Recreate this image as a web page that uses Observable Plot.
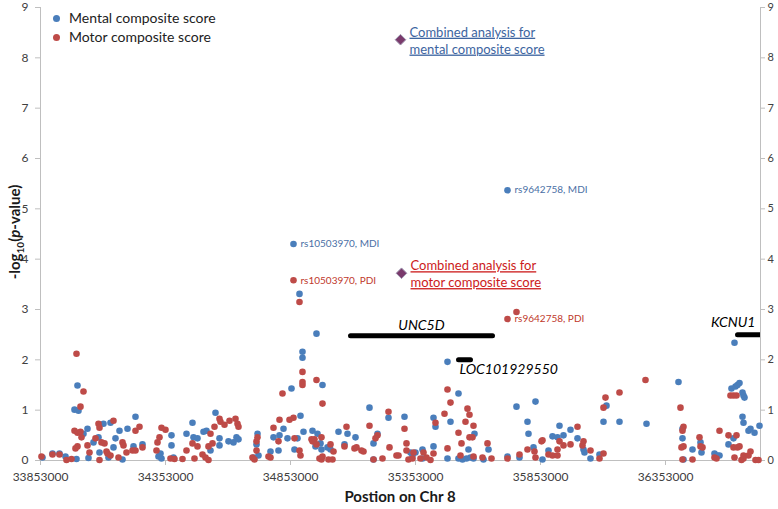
<!DOCTYPE html>
<html><head><meta charset="utf-8">
<script src="https://cdn.jsdelivr.net/npm/d3@7"></script>
<script src="https://cdn.jsdelivr.net/npm/@observablehq/plot@0.6"></script>
<style>
body{margin:0;background:#fff;font-family:Lato,"Open Sans",sans-serif;}
#wrap{position:relative;width:778px;height:509px;}
#legend{position:absolute;left:53px;top:8px;font-size:14px;color:#222;line-height:19px;}
#legend .sw{display:inline-block;width:7px;height:7px;border-radius:50%;margin-right:9px;vertical-align:1px;}
</style></head><body><div id="wrap"><div id="legend"></div></div>
<script>
// ---- data ----
const xDomain = [33853000, 36733000];
const xTicks = [33853000, 34353000, 34853000, 35353000, 35853000, 36353000];
const yTicks = [0, 1, 2, 3, 4, 5, 6, 7, 8, 9];
const seriesNames = ["Mental composite score", "Motor composite score"];
const seriesColors = ["#4a7ebb", "#be4b48"];

const mentalPos = [33861,33901,33929,33953,34001,33989,34005,33997,34025,34041,34045,34065,34085,34089,34105,34133,34145,34153,34125,34169,34181,34201,34225,34233,34261,34325,34333,34337,34377,34377,34385,34437,34461,34465,34481,34505,34517,34533,34553,34569,34569,34605,34625,34637,34645,34705,34717,34721,34725,
34773,34785,34805,34809,34825,34841,34857,34865,34889,34901,34901,34893,34905,34869,34881,34941,34961,34973,34953,34957,34981,34977,35001,35013,35045,35069,35081,35113,35169,35185,35185,35201,35245,35309,35333,35341,35353,35381,35425,35433,35425,35381,
35481,35525,35493,35481,35525,35541,35557,35573,35585,35565,35589,35625,35645,35721,35721,35757,35769,35801,35805,35833,35825,35861,35885,35901,35921,35929,35945,35973,36001,36025,36029,36053,36089,36105,36117,36169,36277,
36405,36421,36421,36425,36461,36493,36497,36549,36561,36569,36605,36625,36629,36617,36633,36641,36649,36661,36665,36669,36661,36665,36685,36693,36709,36729].map(d => d * 1000);
const mentalVal = [0.06,0.14,0.14,0.08,1.49,1.01,0.99,0.03,0.53,0.63,0.05,0.36,0.46,0.16,0.73,0.75,0.26,0.44,0.06,0.59,0.02,0.63,0.28,0.87,0.32,0.08,0.14,0.04,0.5,0.3,0.06,0.53,0.75,0.46,0.44,0.57,0.59,0.2,0.95,0.3,0.44,0.38,0.36,0.46,0.42,0.06,0.32,0.53,0.1,
0.18,0.46,0.2,0.5,0.63,0.44,1.43,4.3,3.31,2.16,2.04,0.89,0.57,0.22,0.44,0.59,0.53,0.34,0.28,2.52,1.5,0.22,0.26,0.22,0.57,0.32,0.53,0.46,1.05,0.34,0.02,0.53,0.85,0.87,0.16,0.1,0.16,0.22,0.85,0.67,0.28,0.04,
1.96,1.33,0.77,0.04,0.04,0.02,0.04,0.06,0.04,0.22,0.53,0.02,0.22,0.08,5.37,1.07,0.06,0.77,0.53,1.17,0.26,0.02,0.2,0.48,0.46,0.69,0.5,0.61,0.44,0.22,0.16,0.04,0.12,0.77,1.09,0.77,0.73,
1.56,0.63,0.44,0.02,0.22,0.36,0.16,0.14,0.1,0.1,0.32,0.44,2.34,1.43,1.47,1.5,1.54,1.35,1.29,1.25,0.87,0.75,0.59,0.63,0.55,0.69];

const motorPos = [33857,33901,33929,33957,33977,33997,34025,34013,33989,34001,34013,34017,34001,33993,34041,34049,34073,34085,34089,34097,34109,34089,34117,34121,34145,34133,34165,34181,34185,34197,34221,34233,34233,34249,34261,34317,34321,34329,34337,34353,34373,34389,34421,34437,34461,34469,34481,34501,34513,34525,34525,34533,34541,34549,34569,34573,34589,34609,34633,34641,34645,34701,34709,34717,34721,34717,
34765,34773,34785,34805,34809,34821,34849,34865,34865,34889,34901,34901,34901,34957,34981,34869,34889,34893,34937,34941,34949,34957,34969,34977,34981,34977,35005,35021,35013,35025,35077,35069,35109,35117,35137,35145,35169,35185,35201,35193,35221,35245,35249,35277,35285,35309,35317,35317,35325,35341,35345,35373,35397,35413,35433,35385,35425,
35469,35481,35493,35481,35525,35537,35533,35553,35561,35569,35569,35581,35585,35585,35621,35641,35657,35721,35721,35757,35769,35801,35829,35833,35857,35861,35885,35901,35921,35921,35929,35945,35973,36001,36021,36025,36053,36089,36105,36105,36113,36169,36273,
36413,36425,36421,36417,36425,36421,36461,36489,36493,36501,36549,36557,36569,36605,36613,36625,36637,36625,36641,36649,36637,36629,36657,36665,36665,36685,36693,36713,36725].map(d => d * 1000);
const motorVal = [0.08,0.12,0.12,0.01,0.03,2.12,1.37,1.07,0.59,0.55,0.57,0.46,0.28,0.24,0.3,0.16,0.44,0.73,0.65,0.36,0.34,0.01,0.18,0.14,0.79,0.1,0.06,0.36,0.3,0.16,0.2,0.2,0.59,0.67,0.26,0.2,0.36,0.46,0.65,0.61,0.04,0.03,0.03,0.2,0.34,0.04,0.28,0.12,0.06,0.01,0.28,0.53,0.34,0.67,0.83,0.77,0.71,0.79,0.83,0.73,0.67,0.06,0.02,0.38,0.46,0.2,
0.08,0.06,0.65,0.38,0.81,1.33,0.81,0.85,3.58,3.15,1.76,1.56,1.5,1.6,1.13,0.44,0.2,0.1,0.42,0.38,0.42,0.32,0.04,0.02,0.08,0.46,0.02,0.02,0.32,0.18,0.67,0.28,0.24,0.26,0.2,0.18,0.69,0.02,0.5,0.44,0.04,0.97,0.26,0.1,0.1,0.63,0.34,0.2,0.02,0.04,0.16,0.04,0.06,0.01,0.75,0.16,0.14,
0.93,1.41,1.15,0.24,0.55,0.34,0.1,0.77,1.03,0.91,0.46,0.46,0.69,0.08,0.06,0.34,0.04,0.04,2.81,2.95,0.12,0.22,0.18,0.06,0.38,0.4,0.12,0.1,0.22,0.1,0.38,0.3,0.32,0.67,0.3,0.38,0.2,0.04,0.14,1.05,1.25,1.35,1.6,
1.05,0.67,0.59,0.26,0.28,0.02,0.02,0.46,0.28,0.26,0.06,0.04,0.59,0.5,1.29,1.29,1.29,0.26,0.26,0.28,0.5,0.06,0.01,0.04,0.1,0.1,0.18,0.01,0.01];

const snpLabels = ["rs10503970, MDI", "rs10503970, PDI", "rs9642758, MDI", "rs9642758, PDI"];
const snpPos = [34865000, 34865000, 35721000, 35721000];
const snpVal = [4.3, 3.58, 5.37, 2.81];
const snpSeries = [0, 1, 0, 1];

const combinedLabels = ["Combined analysis for\nmental composite score", "Combined analysis for\nmotor composite score"];
const combinedPos = [35293000, 35297000];
const combinedVal = [8.36, 3.72];

const geneNames = ["UNC5D", "LOC101929550", "KCNU1"];
const geneStart = [35093000, 35525000, 36641000];
const geneEnd = [35661000, 35573000, 36733000];
const geneY = [2.48, 2.0, 2.5];

// ---- tables ----
const mental = mentalPos.map((x, i) => ({x, y: mentalVal[i]}));
const motor = motorPos.map((x, i) => ({x, y: motorVal[i]}));
const snps = snpLabels.map((t, i) => ({t, x: snpPos[i], y: snpVal[i], s: snpSeries[i]}));
const combined = combinedLabels.map((t, i) => ({t, x: combinedPos[i], y: combinedVal[i], s: i}));
const genes = geneNames.map((name, i) => ({name, start: geneStart[i], end: geneEnd[i], y: geneY[i]}));
const labelColors = ["#4a6fa5", "#c0392b"];
const combinedColors = ["#3c64a0", "#cc1a1a"];

const chart = Plot.plot({
  width: 778, height: 509,
  marginLeft: 40, marginRight: 18, marginTop: 7, marginBottom: 49,
  style: {fontFamily: "Lato, 'Open Sans', sans-serif", fontSize: "12px", color: "#404040", background: "white", overflow: "visible"},
  x: {domain: xDomain},
  y: {domain: [0, 9]},
  marks: [
    Plot.ruleX([xDomain[0], xDomain[1]], {stroke: "#bfbfbf"}),
    Plot.ruleY([0], {stroke: "#bfbfbf"}),
    Plot.axisX({ticks: xTicks, tickFormat: d3.format("d"), tickSize: 5, tickPadding: 7, stroke: "#bfbfbf", fill: "#404040", label: null, fontSize: 12}),
    Plot.axisY({ticks: yTicks, tickSize: 5, tickPadding: 7, stroke: "#bfbfbf", fill: "#404040", label: null, fontSize: 12}),
    Plot.axisY({anchor: "right", ticks: yTicks, tickSize: 4, tickPadding: 3, stroke: "#bfbfbf", fill: "#404040", label: null, fontSize: 11}),
    Plot.link(genes, {x1: "start", x2: "end", y1: "y", y2: "y", stroke: "black", strokeWidth: 5, strokeLinecap: "round", clip: true}),
    Plot.text(genes.filter(g => g.name === "UNC5D"), {x: d => (d.start + d.end) / 2, y: "y", text: "name", dy: -10, fontSize: 14, fontStyle: "italic", fill: "black"}),
    Plot.text(genes.filter(g => g.name === "LOC101929550"), {x: "start", y: "y", text: "name", dx: 1, dy: 10, textAnchor: "start", fontSize: 14, fontStyle: "italic", fill: "black"}),
    Plot.text(genes.filter(g => g.name === "KCNU1"), {x: "end", y: "y", text: "name", dx: -5, dy: -12, textAnchor: "end", fontSize: 14, fontStyle: "italic", fill: "black"}),
    Plot.dot(mental, {x: "x", y: "y", r: 3.3, fill: seriesColors[0], stroke: "none"}),
    Plot.dot(motor, {x: "x", y: "y", r: 3.3, fill: seriesColors[1], stroke: "none"}),
    Plot.text(snps, {x: "x", y: "y", text: "t", dx: 7, textAnchor: "start", fontSize: 10, fill: d => labelColors[d.s]}),
    Plot.dot(combined, {x: "x", y: "y", symbol: "diamond2", r: 4.8, fill: "#7a3a6c", stroke: "#9c93ad", strokeWidth: 1}),
    Plot.text(combined, {x: "x", y: "y", text: "t", dx: 9, textAnchor: "start", lineAnchor: "middle", lineHeight: 1.3, fontSize: 13, fill: d => combinedColors[d.s]})
  ]
});

// underline the combined-analysis annotations
chart.querySelectorAll("text").forEach(t => {
  if (t.textContent.startsWith("Combined")) t.style.textDecoration = "underline";
});

// axis titles
const svg = d3.select(chart);
const yl = svg.append("text")
  .attr("transform", "translate(15,232) rotate(-90)")
  .attr("text-anchor", "middle").attr("dy", "0.35em")
  .attr("font-weight", "bold").attr("font-size", 15).attr("fill", "#1a1a1a")
  .attr("font-family", "Lato, 'Open Sans', sans-serif");
yl.append("tspan").text("-log");
yl.append("tspan").attr("font-size", 10).attr("dy", 4).text("10");
yl.append("tspan").attr("dy", -4).text("(");
yl.append("tspan").attr("font-style", "italic").text("p");
yl.append("tspan").text("-value)");

svg.append("text")
  .attr("x", 400).attr("y", 497).attr("dy", "0.35em")
  .attr("text-anchor", "middle").attr("font-weight", "bold").attr("font-size", 15)
  .attr("fill", "#1a1a1a").attr("font-family", "Lato, 'Open Sans', sans-serif")
  .text("Postion on Chr 8");

document.getElementById("wrap").prepend(chart);

// legend
const legend = document.getElementById("legend");
seriesNames.forEach((n, i) => {
  const row = document.createElement("div");
  const sw = document.createElement("span");
  sw.className = "sw"; sw.style.background = seriesColors[i];
  row.appendChild(sw);
  row.appendChild(document.createTextNode(n));
  legend.appendChild(row);
});
</script>
</body></html>
